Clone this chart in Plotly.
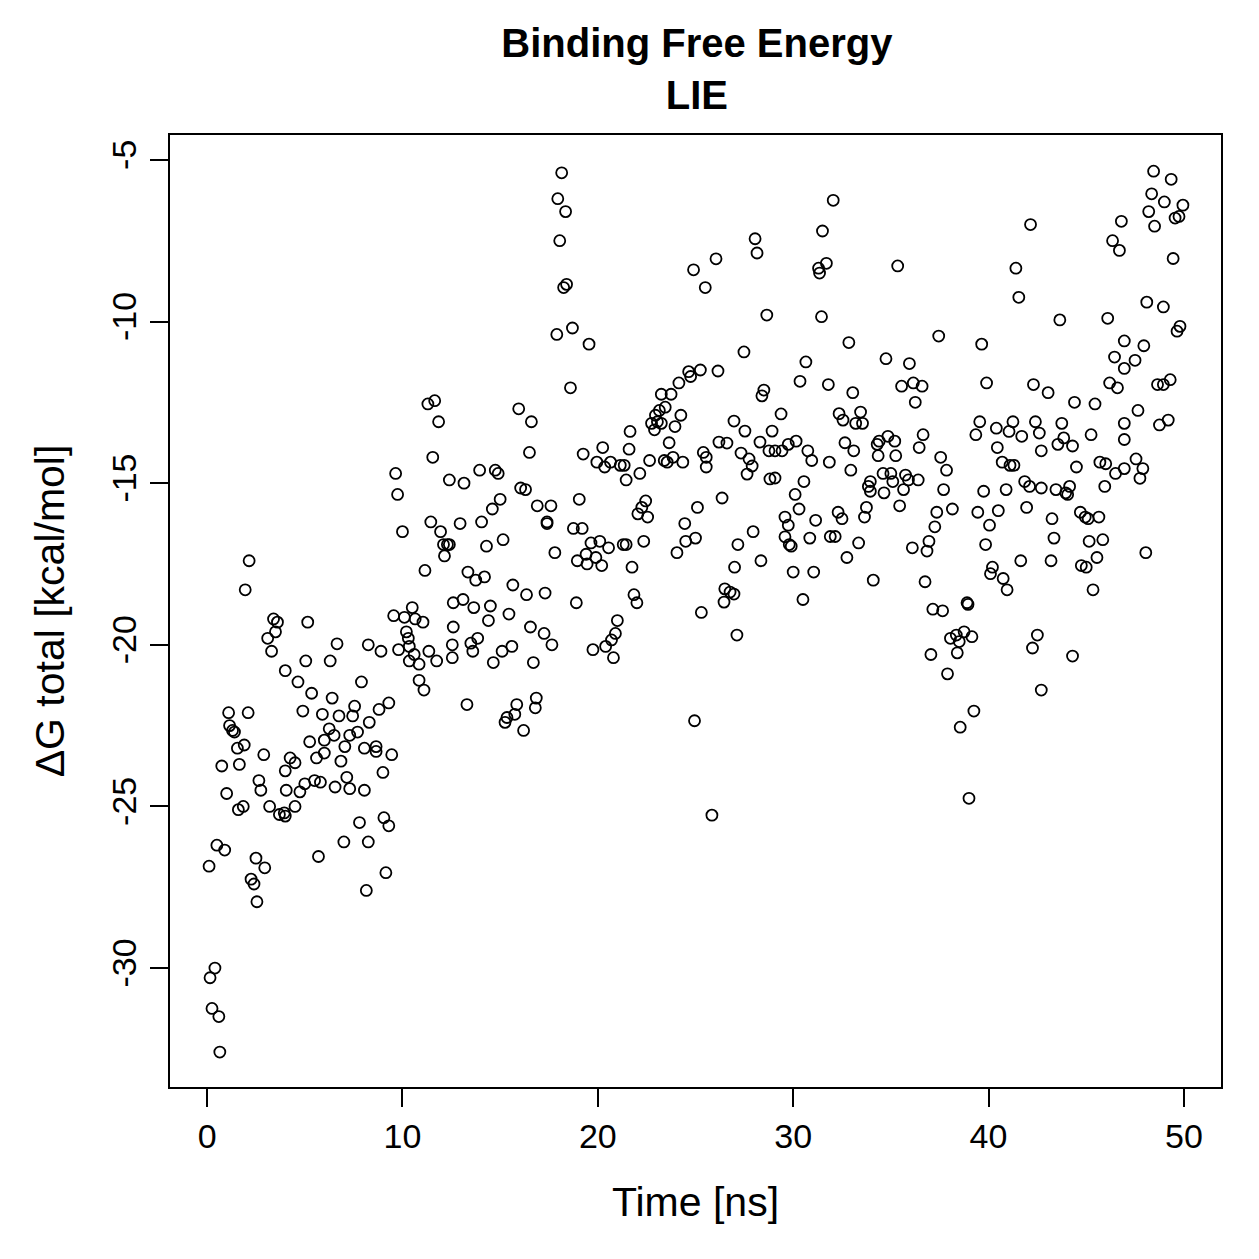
import plotly.graph_objects as go

# Time [ns] and Delta G total [kcal/mol]
time_ns = [
    # 0 - 4 ns
    2.15, 1.95, 3.4, 3.6, 3.5, 3.1, 3.3, 4.0, 1.1, 2.1, 1.15, 1.3, 1.4, 1.55, 1.9, 2.9, 0.75, 1.65, 2.65, 2.75,
    1.0, 1.6, 1.85, 3.2, 3.7, 0.5, 0.9, 0.1, 2.5, 2.95, 2.25, 2.4, 2.55, 0.4, 0.15, 0.25, 0.6, 0.65,
    # 4 - 8.5 ns
    5.15, 6.65, 8.25, 5.05, 6.3, 4.65, 7.9, 5.35, 6.4, 4.9, 5.9, 6.75, 7.45, 7.55, 8.3, 6.25, 6.5, 6.0, 5.25,
    7.05, 7.3, 7.7, 8.05, 6.0, 5.6, 6.85, 4.25, 4.5, 4.0, 7.15, 4.05, 4.75, 5.0, 5.5, 5.8, 6.55, 7.3, 8.05,
    3.95, 4.0, 4.5, 7.8, 7.0, 8.25, 5.7, 8.15,
    # 8.5 - 13 ns
    11.3, 11.65, 11.85, 11.55, 12.4, 9.65, 9.75, 11.45, 11.95, 12.1, 12.3, 12.4, 12.15, 10.0, 11.15, 10.5,
    12.6, 9.55, 10.1, 10.65, 11.05, 10.2, 10.3, 12.6, 8.9, 9.8, 10.35, 10.6, 10.35, 10.85, 11.35, 11.75,
    12.55, 12.55, 10.85, 11.1, 9.3, 8.8, 8.65, 8.65, 9.45, 9.0, 9.05, 9.3, 9.15,
    # 13 - 17 ns
    15.95, 16.6, 16.5, 13.95, 14.75, 14.9, 13.15, 16.05, 16.3, 15.0, 14.6, 14.05, 12.95, 16.9, 15.15, 14.3,
    13.35, 13.75, 14.2, 15.65, 16.35, 13.1, 13.65, 14.5, 15.45, 14.4, 16.55, 13.85, 13.5, 13.6, 15.6, 15.1,
    14.65, 16.7, 13.3, 15.85, 15.75, 15.35, 15.25, 16.2, 16.85, 16.8,
    # 17 - 21 ns
    18.15, 17.95, 18.35, 18.05, 18.4, 18.25, 18.7, 17.9, 19.55, 18.6, 19.25, 20.25, 19.95, 20.35, 20.65,
    19.05, 17.6, 17.4, 17.4, 18.75, 19.2, 19.65, 20.1, 20.55, 17.8, 18.95, 19.4, 19.45, 19.9, 20.2, 17.3,
    18.9, 21.0, 20.9, 20.7, 17.25, 17.65, 19.75, 20.4, 20.8,
    # 21 - 25.5 ns
    24.9, 25.5, 25.25, 24.65, 24.75, 24.15, 23.75, 23.25, 23.45, 23.15, 22.95, 22.75, 23.05, 23.25, 22.9,
    24.25, 23.95, 21.65, 23.65, 21.6, 25.4, 25.55, 25.55, 22.65, 23.4, 23.55, 23.85, 24.35, 21.15, 21.35,
    22.15, 21.45, 22.45, 22.25, 22.05, 22.55, 25.1, 24.45, 25.0, 24.5, 24.05, 21.3, 21.45, 22.35, 21.75,
    21.85, 22.0, 25.3, 24.95,
    # 25.5 - 30 ns
    26.05, 28.05, 28.15, 28.65, 27.48, 26.15, 28.5, 28.4, 29.38, 26.97, 27.53, 28.3, 28.92, 26.2, 26.61,
    27.33, 27.74, 27.9, 27.64, 28.76, 29.07, 29.43, 28.81, 29.07, 26.36, 27.95, 27.17, 27.0, 28.35, 26.5,
    26.77, 26.97, 26.46, 27.12, 29.58, 29.58, 25.84,
    # 30 - 34 ns
    32.05, 31.5, 31.7, 31.3, 31.35, 31.45, 32.85, 30.65, 30.35, 31.8, 33.05, 32.35, 32.55, 33.45, 33.2,
    33.55, 30.15, 29.75, 30.75, 30.95, 31.85, 32.65, 33.1, 32.95, 30.55, 30.1, 33.95, 33.85, 33.95, 30.3,
    31.15, 32.3, 32.5, 33.75, 33.65, 29.75, 30.85, 31.9, 32.15, 33.35, 29.8, 29.9, 32.75, 30.0, 31.05,
    34.1, 30.5,
    # 34 - 38.5 ns
    35.35, 37.45, 34.75, 35.95, 35.55, 36.15, 36.6, 36.25, 34.85, 35.2, 34.4, 34.3, 34.35, 35.25, 36.65,
    36.45, 37.55, 37.85, 37.7, 38.15, 34.6, 35.0, 35.1, 34.65, 35.75, 35.9, 35.65, 36.4, 35.45, 37.35,
    37.25, 36.95, 36.85, 36.1, 36.75, 37.15, 37.65, 38.05, 37.05, 37.9, 38.55,
    # 38.5 - 43 ns
    42.15, 41.4, 41.55, 39.65, 39.9, 42.3, 39.55, 39.35, 40.4, 41.25, 41.05, 41.7, 42.4, 42.6, 40.45,
    40.7, 41.1, 41.3, 41.85, 42.1, 42.7, 42.7, 39.75, 40.9, 39.45, 40.5, 41.95, 40.05, 39.85, 41.65, 40.2,
    40.1, 40.75, 40.95, 38.9, 38.95, 38.35, 38.75, 39.15, 38.5, 38.4, 42.5, 42.25, 42.7, 39.25, 39.0,
    # 43 - 47 ns
    46.8, 46.35, 46.7, 43.65, 46.1, 46.95, 46.45, 46.95, 46.2, 46.6, 43.05, 44.4, 45.45, 43.75, 43.85,
    43.55, 44.3, 45.25, 46.95, 46.95, 44.5, 45.7, 46.0, 46.5, 46.95, 43.45, 43.95, 44.15, 44.05, 45.95,
    43.25, 44.7, 44.95, 45.1, 45.65, 43.35, 45.15, 45.85, 43.2, 44.75, 45.0, 45.55, 45.35, 44.3,
    # 47 - 50 ns
    48.45, 49.35, 48.35, 49.0, 49.95, 48.2, 48.5, 49.55, 49.75, 49.45, 48.1, 48.95, 49.8, 49.65, 47.95,
    47.5, 49.3, 48.95, 48.65, 47.65, 49.2, 48.75, 47.55, 47.9, 47.75, 48.05,
]

dG_total = [
    # 0 - 4 ns
    -17.4, -18.3, -19.2, -19.3, -19.6, -19.8, -20.2, -20.8, -22.1, -22.1, -22.5, -22.65, -22.7, -23.2, -23.1, -23.4, -23.75, -23.7, -24.2, -24.5,
    -24.6, -25.1, -25.0, -25.0, -25.25, -26.2, -26.35, -26.85, -26.6, -26.9, -27.25, -27.4, -27.95, -30.0, -30.3, -31.25, -31.5, -32.6,
    # 4 - 8.5 ns
    -19.3, -19.97, -20.0, -20.5, -20.5, -21.15, -21.15, -21.5, -21.65, -22.05, -22.15, -22.2, -22.2, -21.9, -22.4, -22.6, -22.8, -22.95, -23.0,
    -23.15, -22.8, -22.7, -23.2, -23.35, -23.5, -23.6, -23.5, -23.65, -23.9, -24.1, -24.5, -24.55, -24.3, -24.2, -24.25, -24.4, -24.45, -24.5,
    -25.2, -25.3, -25.0, -25.5, -26.1, -26.1, -26.55, -27.6,
    # 8.5 - 13 ns
    -12.55, -12.45, -13.1, -14.2, -14.9, -14.7, -15.35, -16.2, -16.5, -16.9, -16.9, -16.9, -17.25, -16.5, -17.7, -18.85,
    -18.7, -19.1, -19.15, -19.2, -19.3, -19.6, -19.8, -19.45, -20.2, -20.15, -20.05, -20.3, -20.5, -20.6, -20.2, -20.5,
    -20.0, -20.4, -21.1, -21.4, -21.8, -22.0, -23.15, -23.3, -23.4, -23.95, -25.35, -25.6, -27.05,
    # 13 - 17 ns
    -12.7, -13.1, -14.05, -14.6, -14.6, -14.7, -15.0, -15.15, -15.2, -15.5, -15.8, -16.2, -16.25, -15.7, -16.75, -16.95,
    -17.75, -18.0, -17.9, -18.15, -18.45, -18.6, -18.85, -18.8, -19.05, -19.25, -19.45, -19.8, -19.95, -20.2, -20.05, -20.2,
    -20.55, -20.55, -21.85, -21.85, -22.15, -22.25, -22.4, -22.65, -21.65, -21.95,
    # 17 - 21 ns
    -5.4, -6.2, -6.6, -7.5, -8.85, -8.95, -10.2, -10.4, -10.7, -12.05, -14.1, -13.9, -14.35, -14.5, -14.35,
    -15.5, -15.7, -16.2, -16.25, -16.4, -16.4, -16.85, -16.8, -17.0, -17.15, -17.4, -17.2, -17.5, -17.3, -17.55, -18.4,
    -18.7, -19.25, -19.65, -19.85, -19.65, -20.0, -20.15, -20.05, -20.4,
    # 21 - 25.5 ns
    -8.4, -8.95, -11.5, -11.55, -11.7, -11.9, -12.25, -12.25, -12.65, -12.75, -12.9, -13.15, -13.1, -13.15, -13.35,
    -12.9, -13.25, -13.4, -13.75, -13.95, -14.05, -14.2, -14.5, -14.3, -14.3, -14.35, -14.2, -14.35, -14.45, -14.45,
    -14.7, -14.9, -15.55, -15.75, -15.95, -16.05, -15.75, -16.25, -16.7, -16.8, -17.15, -16.9, -16.9, -16.8, -17.6,
    -18.45, -18.7, -19.0, -22.35,
    # 25.5 - 30 ns
    -8.06, -7.44, -7.88, -9.8, -10.94, -11.53, -12.12, -12.3, -12.86, -13.08, -13.39, -13.73, -13.39, -13.73, -13.76,
    -14.07, -14.25, -14.47, -14.72, -14.0, -14.0, -14.0, -14.87, -14.84, -15.46, -16.5, -16.9, -17.6, -17.4, -18.27,
    -18.37, -18.43, -18.68, -19.7, -16.05, -16.66, -25.27,
    # 30 - 34 ns
    -6.25, -7.2, -8.2, -8.35, -8.5, -9.85, -10.65, -11.25, -11.85, -11.95, -12.2, -12.85, -13.05, -12.8, -13.15,
    -13.15, -13.7, -13.8, -14.0, -14.3, -14.35, -13.75, -14.0, -14.6, -14.95, -15.35, -14.95, -15.1, -15.25, -15.8,
    -16.15, -15.9, -16.1, -15.75, -16.05, -16.3, -16.7, -16.65, -16.65, -16.85, -16.9, -16.95, -17.3, -17.75, -17.75,
    -18.0, -18.6,
    # 34 - 38.5 ns
    -8.28, -10.45, -11.15, -11.3, -12.0, -11.9, -12.0, -12.5, -13.55, -13.7, -13.7, -13.8, -14.15, -14.15, -13.5,
    -13.9, -14.2, -14.6, -15.2, -15.8, -14.7, -14.7, -14.95, -15.3, -14.75, -14.9, -15.2, -14.9, -15.7, -15.9,
    -16.35, -16.8, -17.1, -17.0, -18.05, -18.9, -18.95, -19.8, -20.3, -20.9, -22.55,
    # 38.5 - 43 ns
    -7.0, -8.35, -9.25, -10.7, -11.9, -11.95, -13.1, -13.5, -13.3, -13.1, -13.4, -13.55, -13.1, -13.45, -13.9,
    -14.35, -14.45, -14.45, -14.95, -15.1, -15.15, -14.0, -15.25, -15.2, -15.9, -15.85, -15.75, -16.3, -16.9, -17.4, -17.6,
    -17.8, -17.95, -18.3, -18.7, -18.75, -19.7, -19.6, -19.75, -19.9, -20.25, -19.7, -20.1, -21.4, -22.05, -24.75,
    # 43 - 47 ns
    -6.9, -7.5, -7.8, -9.95, -9.9, -10.6, -11.1, -11.45, -11.9, -12.05, -12.2, -12.5, -12.55, -13.15, -13.6,
    -13.8, -13.85, -13.5, -13.15, -13.65, -14.5, -14.35, -14.4, -14.7, -14.55, -15.2, -15.3, -15.1, -15.35, -15.1,
    -16.1, -15.9, -16.05, -16.1, -16.05, -16.7, -16.8, -16.75, -17.4, -17.55, -17.6, -17.3, -18.3, -20.35,
    # 47 - 50 ns
    -5.35, -5.6, -6.05, -6.3, -6.4, -6.6, -7.05, -6.8, -6.75, -8.05, -9.4, -9.55, -10.15, -10.3, -10.75,
    -11.2, -11.8, -11.95, -11.95, -12.75, -13.05, -13.2, -14.25, -14.55, -14.85, -17.15,
]

x_ticks = [0, 10, 20, 30, 40, 50]
y_ticks = [-30, -25, -20, -15, -10, -5]

FONT = "Liberation Sans, Arial, Helvetica, sans-serif"

fig = go.Figure(
    go.Scatter(
        x=time_ns,
        y=dG_total,
        mode="markers",
        marker=dict(symbol="circle-open", size=11, color="black",
                    line=dict(width=1.8, color="black")),
        showlegend=False,
    )
)

axis_common = dict(
    showgrid=False, zeroline=False,
    showline=True, mirror=True, linecolor="black", linewidth=2,
    ticks="outside", ticklen=18, tickwidth=2, tickcolor="black",
    tickfont=dict(size=34, color="black", family=FONT),
)

fig.update_layout(
    width=1259, height=1259,
    margin=dict(l=170, r=38, t=135, b=172),
    paper_bgcolor="white", plot_bgcolor="white",
    font=dict(family=FONT, color="black"),
    title=dict(
        text="<b>Binding Free Energy</b><br><b>LIE</b>",
        font=dict(size=40, color="black", family=FONT),
        x=0.5535, xanchor="center", xref="container",
        y=1 - 57 / 1259, yanchor="middle", yref="container",
    ),
    xaxis=dict(
        range=[-1.9, 51.9], tickvals=x_ticks, ticktext=[str(v) for v in x_ticks],
        title=dict(text="Time [ns]", font=dict(size=41, family=FONT), standoff=34),
        **axis_common,
    ),
    yaxis=dict(
        range=[-33.68, -4.23], tickvals=y_ticks, ticktext=[str(v) for v in y_ticks],
        tickangle=-90,
        title=dict(text="ΔG total [kcal/mol]", font=dict(size=41, family=FONT), standoff=28),
        **axis_common,
    ),
)

fig.write_html("out.html")
